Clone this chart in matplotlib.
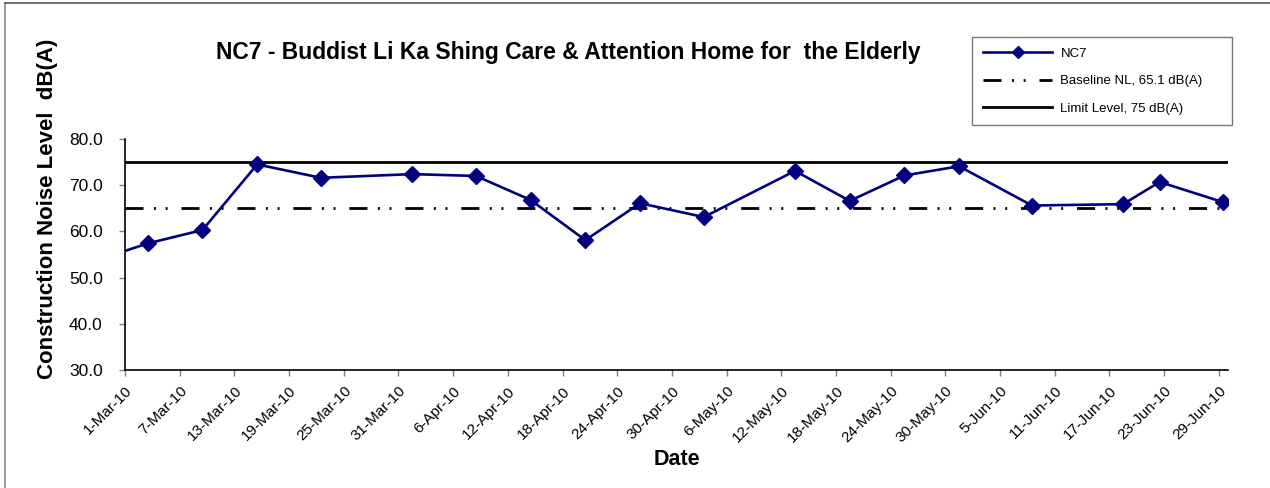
import matplotlib
matplotlib.use("Agg")
import matplotlib.pyplot as plt
from matplotlib.lines import Line2D
import pandas as pd

plt.rcParams['font.family'] = ['Liberation Sans', 'DejaVu Sans']
plt.rcParams['lines.scale_dashes'] = False

dates = ["2010-02-25", "2010-03-03", "2010-03-09", "2010-03-15", "2010-03-22",
         "2010-04-01", "2010-04-08", "2010-04-14", "2010-04-20", "2010-04-26",
         "2010-05-03", "2010-05-13", "2010-05-19", "2010-05-25", "2010-05-31",
         "2010-06-08", "2010-06-18", "2010-06-22", "2010-06-29"]
nc7 = [53.5, 57.4, 60.3, 74.5, 71.6,
       72.4, 72.0, 66.8, 58.1, 66.1,
       63.1, 73.1, 66.6, 72.1, 74.1,
       65.6, 65.9, 70.7, 66.3]
baseline = 65.1
limit = 75.0

title = "NC7 - Buddist Li Ka Shing Care & Attention Home for  the Elderly"
x_start = "2010-03-01"
x_end = "2010-06-30"
y_ticks = [30, 40, 50, 60, 70, 80]

fig = plt.figure(figsize=(12.7, 4.88), dpi=100)
ax = fig.add_axes([125/1270, 1-370/488, (1228-125)/1270, (370-139)/488])

# excel date axis puts points in the middle of the day
x = pd.to_datetime(dates) + pd.Timedelta(hours=12)
x0 = pd.Timestamp(x_start)
x1 = pd.Timestamp(x_end)

ax.plot(x, nc7, color='#000080', lw=1.9, marker='D', markersize=8.5,
        label='NC7', zorder=4)
ax.plot([x0, x1], [baseline, baseline], color='black', lw=2,
        dashes=(13, 7.5, 1.4, 7, 1.4, 10), label='Baseline NL, 65.1 dB(A)', zorder=3)
ax.plot([x0, x1], [limit, limit], color='black', lw=2,
        label='Limit Level, 75 dB(A)', zorder=3)

ax.set_xlim(x0, x1)
ax.set_ylim(30, 80)
ax.set_yticks(y_ticks)
ax.set_yticklabels([f"{v:.1f}" for v in y_ticks], fontsize=12.5)

ticks = pd.date_range(x_start, "2010-06-29", freq="6D")
ax.set_xticks(ticks)
ax.set_xticklabels([f"{d.day}-{d.strftime('%b-%y')}" for d in ticks],
                   rotation=45, ha='right', va='top', rotation_mode='anchor', fontsize=11)

for s in ['top', 'right']:
    ax.spines[s].set_visible(False)
for s in ['left', 'bottom']:
    ax.spines[s].set_linewidth(1.2)
ax.tick_params(axis='both', direction='out', length=4, color='#808080', width=1)
ax.tick_params(axis='y', pad=12)
ax.tick_params(axis='x', pad=6)

ax.set_xlabel("Date", fontsize=15.5, fontweight='bold', labelpad=3)
ax.set_ylabel("Construction Noise Level  dB(A)", fontsize=16, fontweight='bold')
ax.yaxis.set_label_coords(-0.061, 0.697)

fig.text(568/1270, 1-53/488, title, fontsize=16.5, fontweight='bold', ha='center', va='center')

leg = fig.legend(loc='upper left', bbox_to_anchor=(972/1270, 1-120/488, 260/1270, 83/488),
                 mode='expand', fontsize=9.5, frameon=True, fancybox=False,
                 edgecolor='#555555', handlelength=5.3, handletextpad=0.6,
                 labelspacing=1.15, borderpad=0.8, borderaxespad=0)
leg.get_frame().set_linewidth(1)
leg.legend_handles[0].set_markersize(6)

# outer chart frame
fig.add_artist(Line2D([5/1270, 5/1270], [0, 1-3/488], color='#888888', lw=1.2))
fig.add_artist(Line2D([5/1270, 1], [1-3/488, 1-3/488], color='#555555', lw=1.2))

fig.savefig("out.png", dpi=100)
